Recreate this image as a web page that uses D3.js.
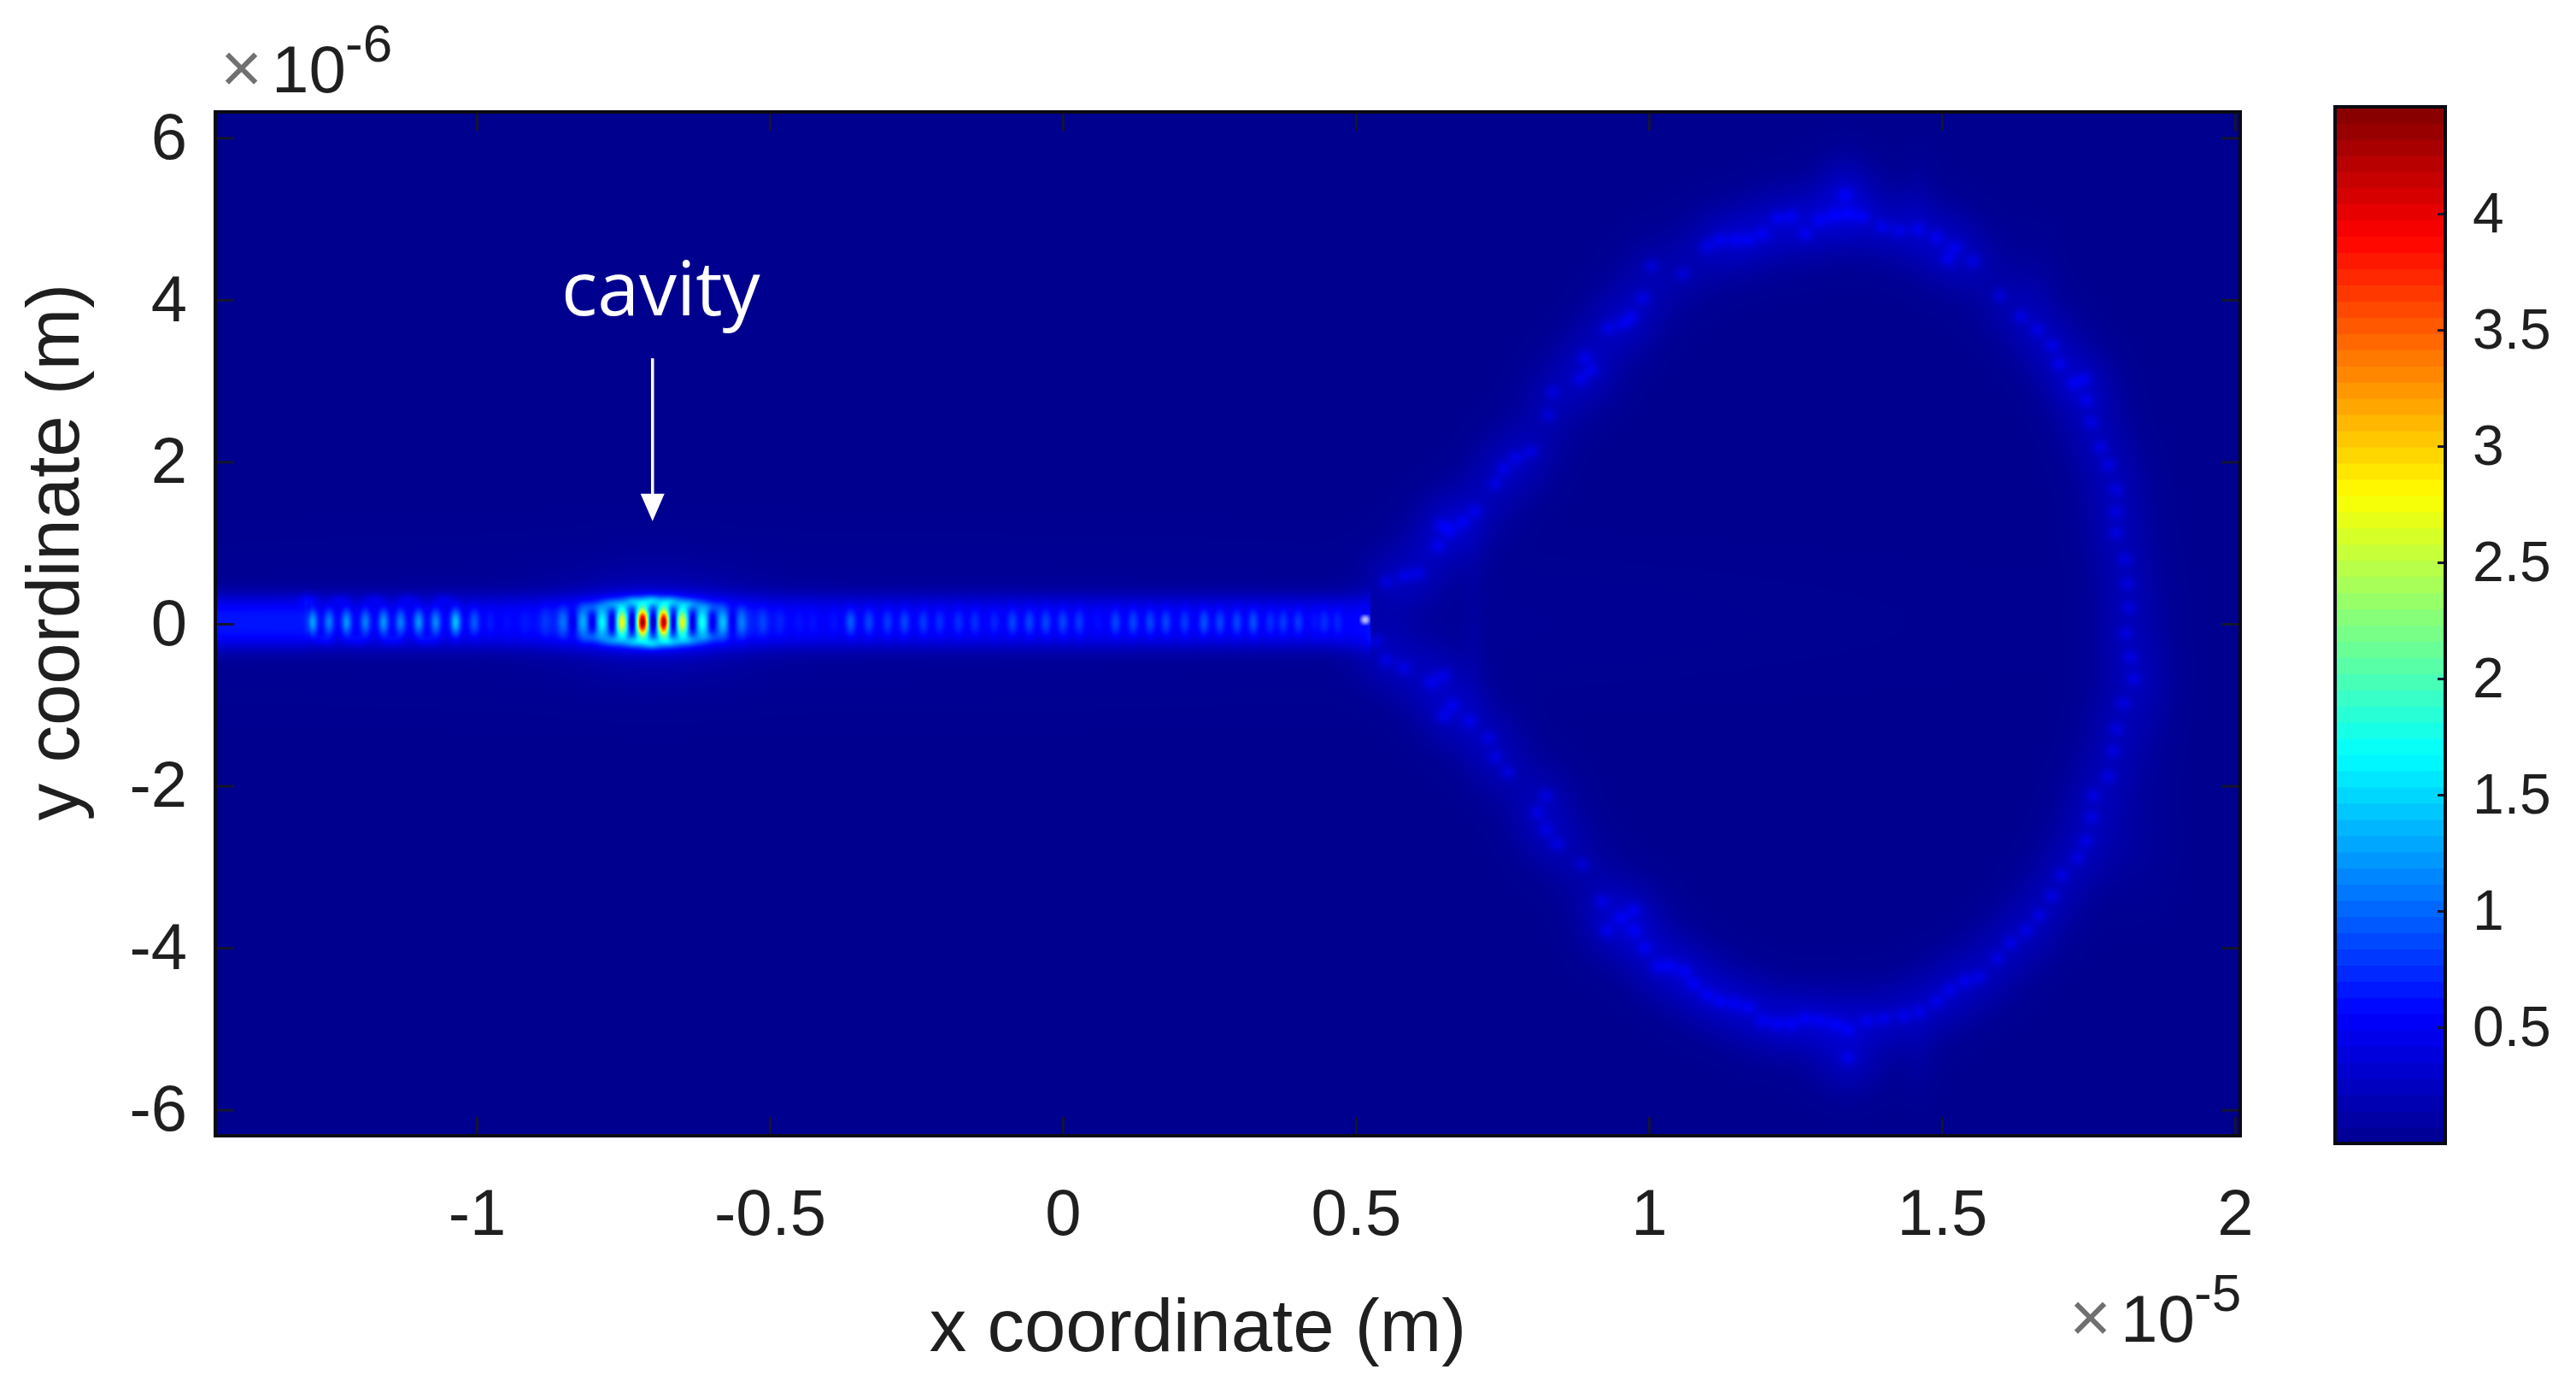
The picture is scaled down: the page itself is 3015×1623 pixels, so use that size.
<!DOCTYPE html>
<html>
<head>
<meta charset="utf-8">
<script src="https://cdn.jsdelivr.net/npm/d3@7"></script>
<style>
    html, body { margin: 0; padding: 0; background: #fff; }
    #chart { position: relative; width: 3015px; height: 1623px; overflow: hidden; }
    #chart canvas, #chart svg { position: absolute; left: 0; top: 0; }
    text { font-family: "Liberation Sans", Arial, sans-serif; fill: #1f1f1f; }
</style>
</head>
<body>
<div id="chart"></div>
<script>
// axis ranges, x in units of 1e-5 m, y in units of 1e-6 m
const xDomain = [-1.446, 2.009];
const yDomain = [-6.32, 6.32];
const cDomain = [0, 4.46];
const xTicks = [-1, -0.5, 0, 0.5, 1, 1.5, 2];
const yTicks = [-6, -4, -2, 0, 2, 4, 6];
const cTicks = [0.5, 1, 1.5, 2, 2.5, 3, 3.5, 4];
const jetStops = [0, 0.125, 0.375, 0.625, 0.875, 1];
const jetColors = ['#00008f', '#0000ff', '#00ffff', '#ffff00', '#ff0000', '#800000'];

// bright fringes on the waveguide axis: [x, peak]
const guideLobes = [
    [-1.280, 1.25], [-1.252, 1.1], [-1.222, 1.2], [-1.190, 1.1], [-1.159, 1.2], [-1.130, 1.1], [-1.099, 1.2],
    [-1.070, 1.15], [-1.036, 1.4], [-1.004, 0.95], [-0.977, 0.65], [-0.948, 0.6], [-0.918, 0.65], [-0.883, 0.8],
    [-0.853, 1.05], [-0.819, 1.3], [-0.786, 1.65], [-0.752, 2.75], [-0.717, 4.4], [-0.681, 4.25], [-0.649, 2.7],
    [-0.615, 1.75], [-0.580, 1.4], [-0.548, 1.1], [-0.512, 0.85], [-0.483, 0.7], [-0.450, 0.62], [-0.427, 0.62],
    [-0.391, 0.62], [-0.362, 0.95], [-0.331, 0.85], [-0.299, 0.8], [-0.270, 0.85], [-0.238, 0.8], [-0.210, 0.75],
    [-0.178, 0.75], [-0.150, 0.75], [-0.117, 0.7], [-0.086, 0.85], [-0.057, 0.85], [-0.029, 0.85], [0, 0.85],
    [0.028, 0.8], [0.060, 0.6], [0.090, 0.85], [0.120, 0.85], [0.149, 0.85], [0.176, 0.85], [0.208, 0.8],
    [0.241, 0.9], [0.268, 0.85], [0.297, 0.85], [0.325, 0.9], [0.354, 0.75], [0.376, 0.8], [0.402, 0.8],
    [0.429, 0.62], [0.446, 0.75], [0.469, 0.7]
];
// dark nodes between the cavity fringes: [x, depth]
const cavityNodes = [
    [-0.836, 0.5], [-0.803, 0.6], [-0.769, 0.75], [-0.735, 0.9], [-0.699, 0.95], [-0.665, 0.9],
    [-0.632, 0.75], [-0.598, 0.6], [-0.564, 0.5]
];
// off-axis spots next to the waveguide: [x, y, value]
const offAxisSpots = [
    [-0.802, 0.2, 0.35], [-0.768, 0.24, 0.55], [-0.733, 0.27, 0.7], [-0.701, 0.28, 0.8], [-0.668, 0.27, 0.7], [-0.636, 0.24, 0.55], [-0.603, 0.2, 0.35],
    [-0.802, -0.16, 0.35], [-0.768, -0.2, 0.55], [-0.733, -0.22, 0.7], [-0.701, -0.24, 0.8], [-0.668, -0.22, 0.7], [-0.636, -0.2, 0.55], [-0.603, -0.16, 0.35],
    [-1.286, 0.3, 0.25], [-1.233, 0.3, 0.18], [-1.175, 0.3, 0.18], [-1.117, 0.3, 0.18], [-1.055, 0.3, 0.18],
    [-1.262, -0.2, 0.18], [-1.205, -0.2, 0.18], [-1.145, -0.2, 0.18], [-1.085, -0.2, 0.18]
];
// ridge spots along the ring, going round from the junction: [x, y]
const ringSpots = [
    [0.552, 0.517], [0.582, 0.59], [0.606, 0.62], [0.640, 0.96], [0.660, 1.15], [0.646, 1.22], [0.682, 1.26], [0.704, 1.39],
    [0.738, 1.73], [0.752, 1.91], [0.774, 2.05], [0.799, 2.13], [0.829, 2.58], [0.835, 2.86], [0.883, 3.02], [0.902, 3.13],
    [0.891, 3.29], [0.930, 3.65], [0.956, 3.71], [0.971, 3.79], [0.990, 4.02], [1.004, 4.42], [1.058, 4.32], [1.099, 4.66],
    [1.121, 4.74], [1.147, 4.74], [1.170, 4.74], [1.194, 4.81], [1.219, 5.01], [1.243, 5.03], [1.267, 4.81], [1.292, 4.98],
    [1.316, 5.04], [1.340, 5.06], [1.335, 5.30], [1.364, 5.03], [1.398, 4.90], [1.427, 4.85], [1.459, 4.87], [1.491, 4.77],
    [1.510, 4.50], [1.522, 4.64], [1.554, 4.48], [1.599, 4.05], [1.634, 3.79], [1.663, 3.63], [1.688, 3.44], [1.700, 3.21],
    [1.724, 2.97], [1.743, 3.02], [1.746, 2.76], [1.755, 2.49], [1.770, 2.18], [1.784, 1.96], [1.797, 1.66], [1.797, 1.38],
    [1.797, 1.12], [1.812, 0.80], [1.816, 0.50], [1.819, 0.20], [1.813, -0.12], [1.821, -0.41], [1.827, -0.68], [1.809, -0.98],
    [1.797, -1.30], [1.792, -1.57], [1.784, -1.89], [1.758, -2.12], [1.755, -2.39], [1.746, -2.68], [1.732, -2.89], [1.704, -3.10],
    [1.688, -3.36], [1.666, -3.60], [1.644, -3.79], [1.617, -3.94], [1.595, -4.13], [1.564, -4.36], [1.539, -4.41], [1.513, -4.52],
    [1.491, -4.66], [1.462, -4.79], [1.434, -4.84], [1.401, -4.87], [1.372, -4.90], [1.340, -5.01], [1.340, -5.36], [1.318, -4.94],
    [1.292, -4.90], [1.267, -4.87], [1.243, -4.94], [1.219, -4.94], [1.194, -4.90], [1.170, -4.73], [1.146, -4.69], [1.121, -4.66],
    [1.099, -4.58], [1.076, -4.45], [1.061, -4.29], [1.036, -4.23], [1.015, -4.23], [0.993, -4.00], [0.975, -3.79], [0.975, -3.53],
    [0.952, -3.63], [0.927, -3.79], [0.920, -3.42], [0.886, -2.97], [0.844, -2.72], [0.825, -2.54], [0.825, -2.12], [0.810, -2.33],
    [0.759, -1.83], [0.738, -1.65], [0.727, -1.41], [0.694, -1.20], [0.665, -1.01], [0.650, -1.14], [0.650, -0.64], [0.628, -0.72],
    [0.582, -0.54], [0.552, -0.45], [0.534, -0.22]
];
// broad faint glows: [x, y, spread x, spread y, value]
const glows = [
    [-0.70, 0.02, 0.08, 0.19, 0.85], [-0.70, 0.02, 0.11, 0.44, 0.2], [-0.50, 0.02, 0.95, 0.55, 0.06],
    [1.335, 5.5, 0.03, 0.25, 0.09], [1.46, 5.3, 0.02, 0.3, 0.06], [1.66, 4.2, 0.03, 0.4, 0.05],
    [1.86, -1.0, 0.03, 0.6, 0.05], [1.83, -2.7, 0.04, 0.5, 0.06], [1.34, -5.5, 0.04, 0.25, 0.09],
    [1.46, -5.4, 0.02, 0.3, 0.06], [0.70, 0.0, 0.012, 0.9, 0.05]
];
// flat waveguide sections: [x start, x end, value]
const guideSections = [[-1.446, -1.29, 0.6], [-1.29, 0.525, 0.47]];
// small pale spot where the guide meets the ring
const junction = [0.516, 0.05];
const cavityArrow = { x: -0.70, from: 3.28, to: 1.27 };

const plot = { left: 252, top: 131, right: 2622, bottom: 1329 };
const bar = { left: 2733, top: 125, right: 2862, bottom: 1338 };
const cellSize = 2;

const xScale = d3.scaleLinear().domain(xDomain).range([plot.left, plot.right]);
const yScale = d3.scaleLinear().domain(yDomain).range([plot.bottom, plot.top]);
const cScale = d3.scaleLinear().domain(cDomain).range([bar.bottom, bar.top]);
const jet = d3.scaleLinear()
    .domain(jetStops.map(d => d * cDomain[1]))
    .range(jetColors)
    .clamp(true);

const chart = d3.select('#chart');

// scalar field on a grid of small cells, coloured through the jet scale
const cols = Math.ceil((plot.right - plot.left) / cellSize);
const rows = Math.ceil((plot.bottom - plot.top) / cellSize);
const field = new Float32Array(cols * rows);
const cellX = d3.range(cols).map(i => xScale.invert(plot.left + (i + 0.5) * cellSize));
const cellY = d3.range(rows).map(j => yScale.invert(plot.top + (j + 0.5) * cellSize));

function eachCell(x, y, sx, sy, fn) {
    const i0 = Math.max(0, Math.floor((xScale(x - 3.5 * sx) - plot.left) / cellSize));
    const i1 = Math.min(cols - 1, Math.ceil((xScale(x + 3.5 * sx) - plot.left) / cellSize));
    const j0 = Math.max(0, Math.floor((yScale(y + 3.5 * sy) - plot.top) / cellSize));
    const j1 = Math.min(rows - 1, Math.ceil((yScale(y - 3.5 * sy) - plot.top) / cellSize));
    for (let j = j0; j <= j1; j++) {
        for (let i = i0; i <= i1; i++) {
            const dx = (cellX[i] - x) / sx;
            const dy = (cellY[j] - y) / sy;
            fn(j * cols + i, Math.exp(-0.5 * (dx * dx + dy * dy)));
        }
    }
}
const addGlow = (x, y, sx, sy, v) => eachCell(x, y, sx, sy, (k, g) => { field[k] += v * g; });

// guide band
guideSections.forEach(([x0, x1, v]) => {
    for (let j = 0; j < rows; j++) {
        const dy = Math.abs(cellY[j] - 0.02) / 0.33;
        const profile = Math.exp(-dy * dy * dy);
        if (profile < 0.001) continue;
        for (let i = 0; i < cols; i++) {
            if (cellX[i] >= x0 && cellX[i] < x1) field[j * cols + i] += v * profile;
        }
    }
});
glows.forEach(d => addGlow(...d));
offAxisSpots.forEach(([x, y, v]) => addGlow(x, y, 0.011, 0.05, v));
ringSpots.forEach(([x, y]) => {
    addGlow(x, y, 0.009, 0.062, 0.2);
    addGlow(x, y, 0.04, 0.3, 0.075);
});
cavityNodes.forEach(([x, depth]) => {
    eachCell(x, 0.02, 0.0065, 0.12, (k, g) => { field[k] *= 1 - depth * g; });
});
guideLobes.forEach(([x, peak]) => {
    eachCell(x, 0.02, 0.0062, 0.11, (k, g) => { field[k] += Math.max(0, peak - field[k]) * g; });
});

const offscreen = document.createElement('canvas');
offscreen.width = cols;
offscreen.height = rows;
const offCtx = offscreen.getContext('2d');
const img = offCtx.createImageData(cols, rows);
for (let k = 0; k < field.length; k++) {
    const c = d3.rgb(jet(field[k]));
    img.data[k * 4] = c.r;
    img.data[k * 4 + 1] = c.g;
    img.data[k * 4 + 2] = c.b;
    img.data[k * 4 + 3] = 255;
}
offCtx.putImageData(img, 0, 0);

const canvas = chart.append('canvas').attr('width', 3015).attr('height', 1623).node();
const ctx = canvas.getContext('2d');
ctx.imageSmoothingEnabled = true;
ctx.imageSmoothingQuality = 'high';
ctx.drawImage(offscreen, plot.left, plot.top, plot.right - plot.left, plot.bottom - plot.top);

const svg = chart.append('svg').attr('width', 3015).attr('height', 1623);
const defs = svg.append('defs');
defs.append('filter').attr('id', 'soft').append('feGaussianBlur').attr('stdDeviation', 2.2);

svg.append('circle')
    .attr('cx', xScale(junction[0]))
    .attr('cy', yScale(junction[1]))
    .attr('r', 5)
    .attr('fill', '#c4ccff')
    .attr('filter', 'url(#soft)');

// colour bar, 64 levels like the colormap
const levels = d3.range(64);
const levelH = (cDomain[1] - cDomain[0]) / 64;
svg.append('g').selectAll('rect')
    .data(levels)
    .join('rect')
    .attr('x', bar.left)
    .attr('width', bar.right - bar.left)
    .attr('y', d => cScale((d + 1) * levelH) - 0.5)
    .attr('height', d => cScale(d * levelH) - cScale((d + 1) * levelH) + 1)
    .attr('fill', d => jet((d + 0.5) * levelH));

// axes
function styleAxis(g, fontSize) {
    g.select('.domain').remove();
    g.selectAll('.tick line').attr('stroke', '#14142e').attr('stroke-width', 3);
    g.selectAll('.tick text').attr('font-size', fontSize).attr('fill', '#1f1f1f');
}
const fmt = d => String(d);

svg.append('g')
    .attr('transform', `translate(0,${plot.bottom})`)
    .call(d3.axisBottom(xScale).tickValues(xTicks).tickFormat(fmt).tickSizeInner(-22).tickSizeOuter(0).tickPadding(62))
    .call(g => styleAxis(g, 76));
svg.append('g')
    .attr('transform', `translate(0,${plot.top})`)
    .call(d3.axisTop(xScale).tickValues(xTicks).tickFormat('').tickSizeInner(-22).tickSizeOuter(0))
    .call(g => styleAxis(g, 76));
svg.append('g')
    .attr('transform', `translate(${plot.left},0)`)
    .call(d3.axisLeft(yScale).tickValues(yTicks).tickFormat(fmt).tickSizeInner(-22).tickSizeOuter(0).tickPadding(33))
    .call(g => styleAxis(g, 76));
svg.append('g')
    .attr('transform', `translate(${plot.right},0)`)
    .call(d3.axisRight(yScale).tickValues(yTicks).tickFormat('').tickSizeInner(-22).tickSizeOuter(0))
    .call(g => styleAxis(g, 76));
svg.append('g')
    .attr('transform', `translate(${bar.right},0)`)
    .call(d3.axisRight(cScale).tickValues(cTicks).tickFormat(fmt).tickSizeInner(-9).tickSizeOuter(0).tickPadding(32))
    .call(g => styleAxis(g, 66));

// box outlines
svg.append('rect')
    .attr('x', plot.left).attr('y', plot.top)
    .attr('width', plot.right - plot.left).attr('height', plot.bottom - plot.top)
    .attr('fill', 'none').attr('stroke', '#0a0a14').attr('stroke-width', 4);
svg.append('rect')
    .attr('x', bar.left).attr('y', bar.top)
    .attr('width', bar.right - bar.left).attr('height', bar.bottom - bar.top)
    .attr('fill', 'none').attr('stroke', '#0a0a14').attr('stroke-width', 4);

// axis titles
svg.append('text')
    .attr('x', 1402).attr('y', 1581)
    .attr('text-anchor', 'middle')
    .attr('font-size', 87)
    .text('x coordinate (m)');
svg.append('text')
    .attr('transform', 'translate(92,646) rotate(-90)')
    .attr('text-anchor', 'middle')
    .attr('font-size', 87)
    .text('y coordinate (m)');

// exponent labels
function exponentLabel(x, y, power) {
    const g = svg.append('g').attr('transform', `translate(${x},${y})`);
    g.append('text').attr('x', 0).attr('y', 0).attr('font-size', 84).style('fill', '#707070').text('\u00d7');
    g.append('text').attr('x', 60).attr('y', 0).attr('font-size', 78).text('10');
    g.append('text').attr('x', 146).attr('y', -36).attr('font-size', 62).text(power);
}
exponentLabel(258, 108, '-6');
exponentLabel(2422, 1570, '-5');

// cavity annotation
svg.append('text')
    .attr('x', 657).attr('y', 369)
    .attr('font-size', 88)
    .style('font-family', '"Open Sans", sans-serif')
    .style('fill', '#fff')
    .text('cavity');
const arrowX = xScale(cavityArrow.x);
const arrowTip = yScale(cavityArrow.to);
svg.append('line')
    .attr('x1', arrowX).attr('x2', arrowX)
    .attr('y1', yScale(cavityArrow.from)).attr('y2', arrowTip - 18)
    .attr('stroke', '#fff').attr('stroke-width', 3.5);
svg.append('path')
    .attr('d', d3.line()([[arrowX - 14, arrowTip - 32], [arrowX + 14, arrowTip - 32], [arrowX, arrowTip]]) + 'Z')
    .attr('fill', '#fff');
</script>
</body>
</html>
